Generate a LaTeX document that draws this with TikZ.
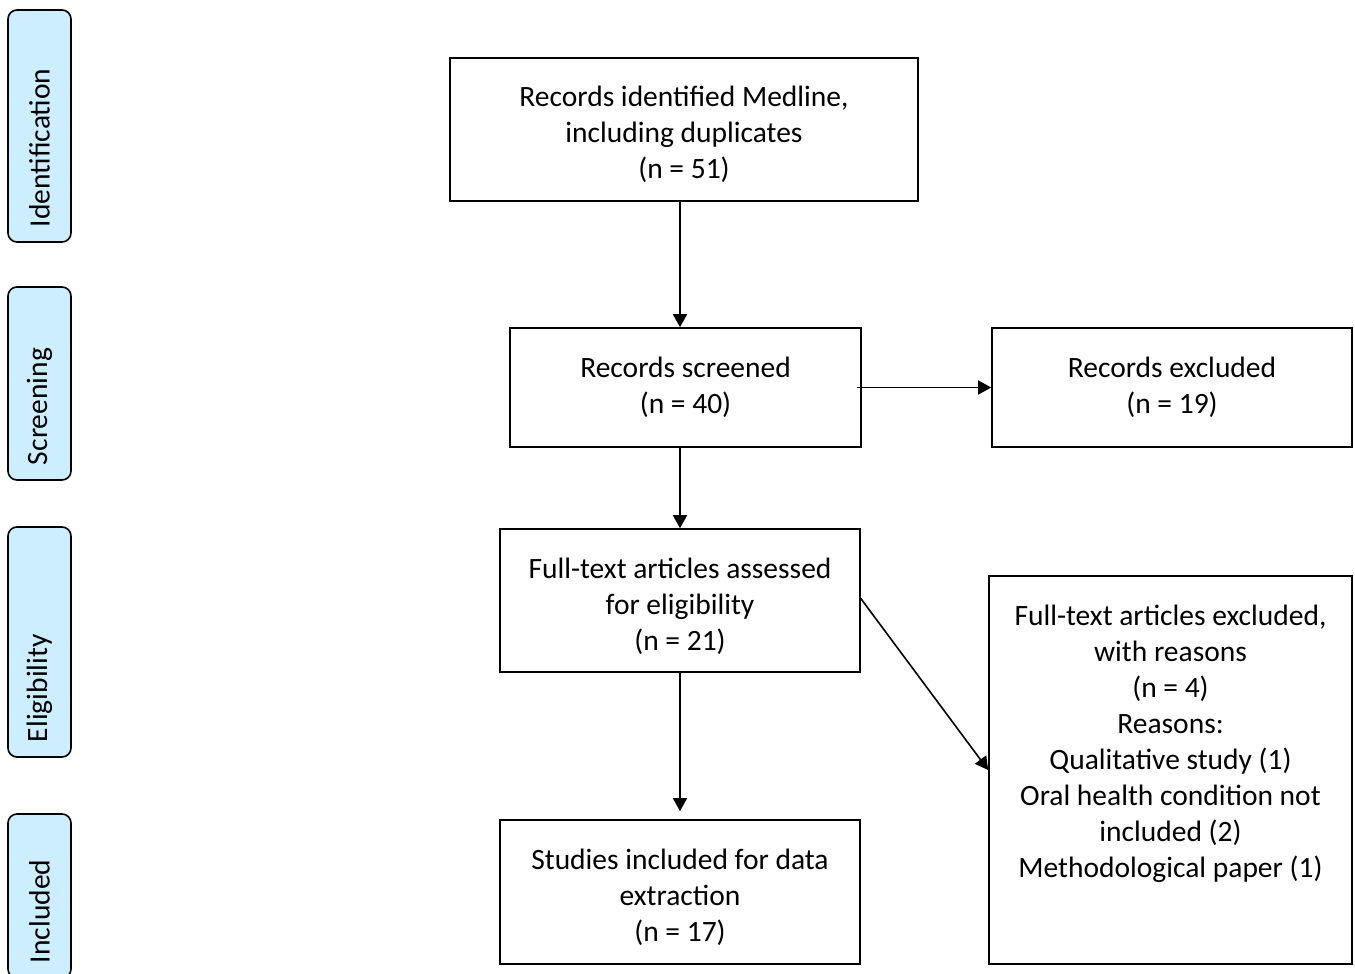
\documentclass[tikz,border=0pt]{standalone}
\usepackage{fontspec}
\setmainfont{Carlito}
\usetikzlibrary{arrows.meta}

\definecolor{phaseblue}{RGB}{204,238,255}
\newcommand{\topgap}[1]{\rule{0pt}{#1}}

\tikzset{
    flowbox/.style={draw, line width=1.6pt, align=center, inner sep=0pt},
    phasebox/.style={draw, line width=1.6pt, fill=phaseblue, rounded corners=9pt,
        rotate=90, minimum height=63pt, inner ysep=0pt, inner xsep=15pt,
        align=left, text width=#1},
    flowarrow/.style={line width=1.6pt, -{Triangle[length=13pt,width=14pt]}}
}

\begin{document}
\begin{tikzpicture}[x=1pt, y=-1pt, font=\fontsize{29.5}{36}\selectfont]
    \useasboundingbox (0,0) rectangle (1355,974);

    % phases on the left
    \node[phasebox=202pt] (identification) at (39.5,126) {Identification};
    \node[phasebox=163pt] (screening) at (39.5,383.5) {Screening};
    \node[phasebox=200pt] (eligibility) at (39.5,642) {Eligibility};
    \node[phasebox=134pt] (included) at (39.5,896) {Included};

    % flow boxes
    \node[flowbox, minimum width=468pt, minimum height=143pt] (ident) at (684,129.5)
        {\topgap{31pt}Records identified Medline,\\including duplicates\\(n = 51)};
    \node[flowbox, minimum width=351pt, minimum height=119pt] (screened) at (685.5,387.5)
        {Records screened\\(n = 40)};
    \node[flowbox, minimum width=360pt, minimum height=119pt] (excluded) at (1172,387.5)
        {Records excluded\\(n = 19)};
    \node[flowbox, minimum width=360pt, minimum height=143pt] (fulltext) at (680,600.5)
        {\topgap{33pt}Full-text articles assessed\\for eligibility\\(n = 21)};
    \node[flowbox, minimum width=360pt, minimum height=144pt] (studies) at (680,892)
        {\topgap{31pt}Studies included for data\\extraction\\(n = 17)};
    \node[flowbox, minimum width=363pt, minimum height=388pt] (fullexbox) at (1170.5,770) {};
    \node[align=center, anchor=north, inner sep=0pt] (fullex) at ([yshift=-30pt]fullexbox.north)
        {Full-text articles excluded,\\with reasons\\(n = 4)\\Reasons:\\Qualitative study (1)\\Oral health condition not\\included (2)\\Methodological paper (1)};

    % connectors
    \draw[flowarrow] (ident.south -| fulltext) -- (screened.north -| fulltext);
    \draw[flowarrow] ([xshift=-5pt]screened.east) -- (excluded.west);
    \draw[flowarrow] (screened.south -| fulltext) -- (fulltext.north);
    \draw[flowarrow, shorten >=8pt] (fulltext.south) -- (studies.north);
    \draw[flowarrow] ([yshift=2pt]fulltext.east) -- (fullexbox.west);
\end{tikzpicture}
\end{document}
